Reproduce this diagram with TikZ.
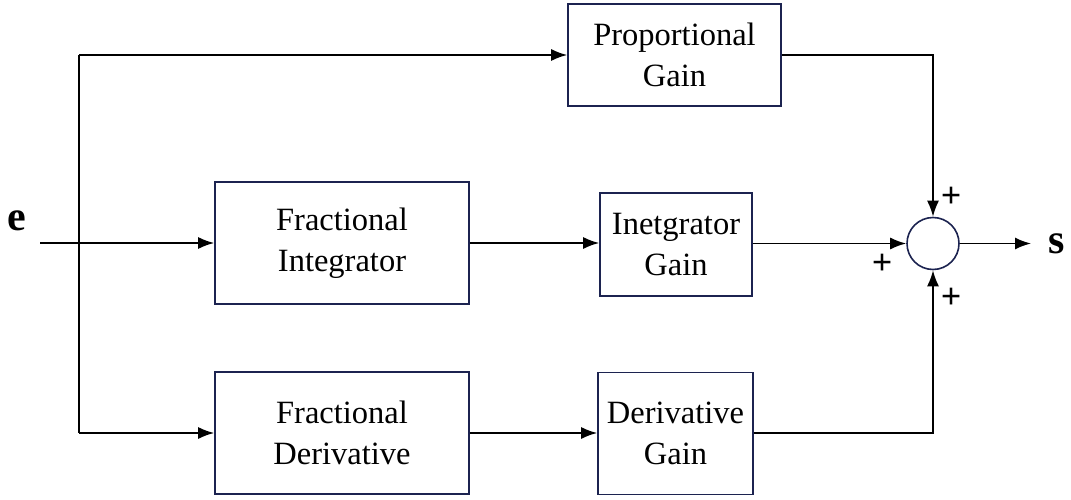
\documentclass[tikz,border=0pt]{standalone}
\usepackage{fontspec}
\setmainfont{Liberation Serif}
\usetikzlibrary{arrows.meta}
\definecolor{boxc}{HTML}{1C2350}
\tikzset{
  blk/.style={draw=boxc, line width=1.6pt, minimum width=#1, align=center, inner sep=0pt, font=\fontsize{32.5}{41}\selectfont},
  wire/.style={line width=1.7pt, -{Latex[length=16pt,width=12pt]}},
  line/.style={line width=1.7pt},
  pl/.style={font=\fontsize{36}{36}\selectfont\bfseries},
  lab/.style={font=\fontsize{42}{42}\selectfont\bfseries}
}
\begin{document}
\begin{tikzpicture}[x=1pt,y=-1pt]
\useasboundingbox (0,0) rectangle (1071,500);
\node[blk=213pt, minimum height=102pt] (pg) at (674.5,55) {Proportional\\Gain};
\node[blk=254pt, minimum height=122pt] (fi) at (342,243) {Fractional\\Integrator};
\node[blk=152pt, minimum height=103pt] (ig) at (676,244.5) {Inetgrator\\Gain};
\node[blk=254pt, minimum height=122pt] (fd) at (342,433) {Fractional\\Derivative};
\node[blk=155pt, minimum height=122pt] (dg) at (675.5,433.5) {Derivative\\Gain};
\node[draw=boxc, line width=1.6pt, circle, minimum size=52pt, inner sep=0pt] (sum) at (933,243.5) {};
\node[lab] (e) at (17,221) {e};
\node[lab] (s) at (1057,244) {s};
\coordinate (in) at (40,243);
\coordinate (j) at (79,243);
\coordinate (jt) at (79,55);
\coordinate (jb) at (79,433);
\coordinate (out) at (1031,243.5);
\draw[line] (in) -- (j);
\draw[wire] (j) -- (fi.west |- j);
\draw[wire] (jt) -- (pg.west |- jt);
\draw[line] (jt) -- (jb);
\draw[wire] (jb) -- (fd.west |- jb);
\draw[wire] (fi.east |- j) -- (ig.west |- j);
\draw[wire] (ig.east |- sum) -- (sum.west);
\draw[wire] (fd.east |- jb) -- (dg.west |- jb);
\draw[wire] (pg.east |- jt) -| (sum.north);
\draw[wire] (dg.east |- jb) -| (sum.south);
\draw[wire] (sum.east) -- (out);
\node[pl] at (951,197) {+};
\node[pl] at (882,264) {+};
\node[pl] at (951,298) {+};
\end{tikzpicture}
\end{document}
